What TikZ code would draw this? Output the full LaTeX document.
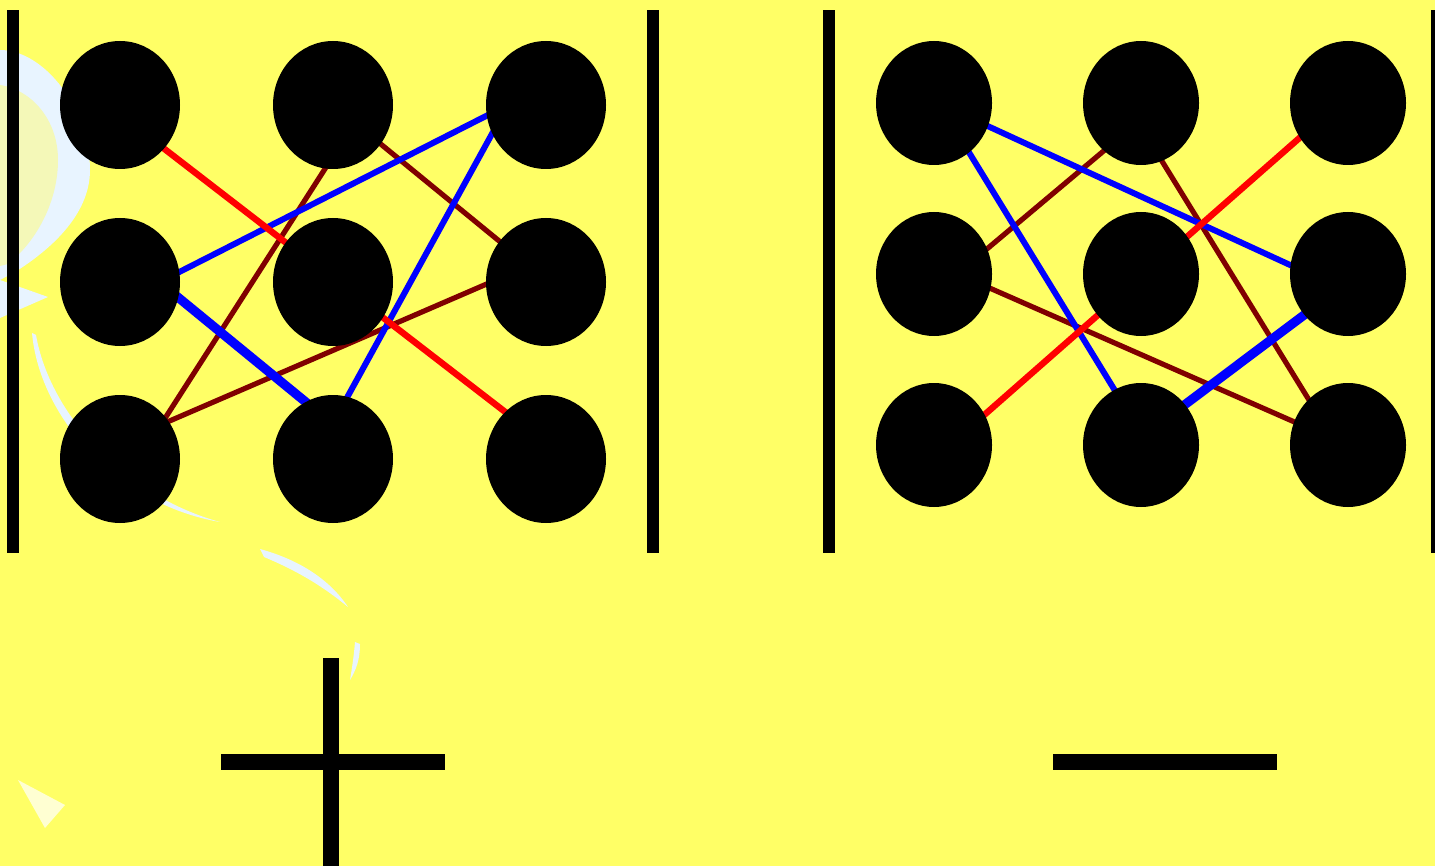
\documentclass[tikz,border=0pt]{standalone}
\usetikzlibrary{shapes.geometric,calc}
\definecolor{bgyellow}{HTML}{FFFF66}
\definecolor{paleblue}{HTML}{E8F4FF}
\definecolor{paleyellow}{HTML}{F4F8B8}
\definecolor{creamwhite}{HTML}{FFFFD2}
\definecolor{wirered}{HTML}{FF0000}
\definecolor{wireblue}{HTML}{0000FF}
\definecolor{wiremaroon}{HTML}{800000}
\pgfdeclarelayer{bg}
\pgfdeclarelayer{wires}
\pgfsetlayers{bg,wires,main}
\begin{document}
\begin{tikzpicture}[x=0.5pt,y=-0.5pt,
  dotL/.style={ellipse, fill=black, minimum width=60pt, minimum height=64pt, inner sep=0pt},
  dotR/.style={ellipse, fill=black, minimum width=58pt, minimum height=62pt, inner sep=0pt},
  ext/.style={shorten <=-7pt, shorten >=-7pt},
  redw/.style={ext, draw=wirered, line width=3.2pt},
  bluew/.style={ext, draw=wireblue, line width=3.0pt},
  bluethick/.style={ext, draw=wireblue, line width=4.6pt},
  maroonw/.style={ext, draw=wiremaroon, line width=2.6pt},
  bar/.style={fill=black},
  swoosh/.style={fill=paleblue}]
\useasboundingbox (0,0) rectangle (1435,866);

% background and faint decorative strokes
\begin{pgfonlayer}{bg}
  \fill[bgyellow] (0,0) rectangle (1435,866);
  \fill[swoosh] (0,50) .. controls (45,50) and (90,110) .. (90,170)
                .. controls (90,215) and (50,250) .. (15,272) -- (0,280) -- cycle;
  \fill[paleyellow] (0,85) .. controls (32,90) and (58,120) .. (58,160)
                .. controls (58,200) and (38,240) .. (8,264) -- (0,266) -- cycle;
  \fill[swoosh] (0,280) -- (48,297) -- (0,318) -- cycle;
  \fill[swoosh] (32,333) .. controls (40,420) and (120,505) .. (220,522)
                .. controls (125,496) and (50,415) .. (36,335) -- cycle;
  \fill[swoosh] (260,549) .. controls (300,560) and (330,580) .. (348,607)
                .. controls (325,588) and (300,572) .. (264,557) -- cycle;
  \fill[swoosh] (355,642) -- (360,644) .. controls (360,660) and (356,670) .. (350,680)
                .. controls (352,668) and (354,655) .. (355,642) -- cycle;
  \fill[creamwhite] (18,780) -- (65,805) -- (45,828) -- cycle;
\end{pgfonlayer}

% panel bars
\fill[bar] (7,10) rectangle (19,553);
\fill[bar] (647,10) rectangle (659,553);
\fill[bar] (823,10) rectangle (835,553);
\fill[bar] (1431,10) rectangle (1435,553);

% left grid
\node[dotL] (a11) at (120,105) {};
\node[dotL] (a12) at (333,105) {};
\node[dotL] (a13) at (546,105) {};
\node[dotL] (a21) at (120,282) {};
\node[dotL] (a22) at (333,282) {};
\node[dotL] (a23) at (546,282) {};
\node[dotL] (a31) at (120,459) {};
\node[dotL] (a32) at (333,459) {};
\node[dotL] (a33) at (546,459) {};

% right grid
\node[dotR] (b11) at (934,103) {};
\node[dotR] (b12) at (1141,103) {};
\node[dotR] (b13) at (1348,103) {};
\node[dotR] (b21) at (934,274) {};
\node[dotR] (b22) at (1141,274) {};
\node[dotR] (b23) at (1348,274) {};
\node[dotR] (b31) at (934,445) {};
\node[dotR] (b32) at (1141,445) {};
\node[dotR] (b33) at (1348,445) {};

% connections, running between rim points and hidden behind the dots
\begin{pgfonlayer}{wires}
  \draw[maroonw] ($(a31)+(46.5,-43)$) -- ($(a12)+(-8.5,64.6)$);
  \draw[maroonw] ($(a31)+(48.6,-37.6)$) -- ($(a23)+(-59.3,2)$);
  \draw[maroonw] ($(a12)+(46.3,37.9)$) -- ($(a23)+(-44.5,-39.1)$);
  \draw[bluew] ($(a21)+(59.1,-9.9)$) -- ($(a13)+(-58,10)$);
  \draw[bluew] ($(a32)+(14.7,-62.6)$) -- ($(a13)+(-53,27)$);
  \draw[bluethick] ($(a21)+(59.1,16.2)$) -- ($(a32)+(-27.5,-57.2)$);
  \draw[redw] ($(a11)+(43.5,43.2)$) -- ($(a33)+(-42.4,-48.3)$);

  \draw[maroonw] ($(b21)+(52.9,-25)$) -- ($(b12)+(-36.2,47)$);
  \draw[maroonw] ($(b21)+(56.9,14.6)$) -- ($(b33)+(-53.5,-23)$);
  \draw[maroonw] ($(b12)+(20.7,57.7)$) -- ($(b33)+(-39,-45)$);
  \draw[bluew] ($(b11)+(52.9,22.7)$) -- ($(b23)+(-57.9,-9)$);
  \draw[bluew] ($(b11)+(35.3,49.9)$) -- ($(b32)+(-26.4,-55)$);
  \draw[bluethick] ($(b32)+(44.3,-40.7)$) -- ($(b23)+(-43,40.3)$);
  \draw[redw] ($(b31)+(51,-30.7)$) -- ($(b13)+(-48,34.5)$);
\end{pgfonlayer}

% plus and minus signs
\fill[bar] (221,754) rectangle (445,770);
\fill[bar] (323,658) rectangle (339,866);
\fill[bar] (1053,754) rectangle (1277,770);
\end{tikzpicture}
\end{document}
